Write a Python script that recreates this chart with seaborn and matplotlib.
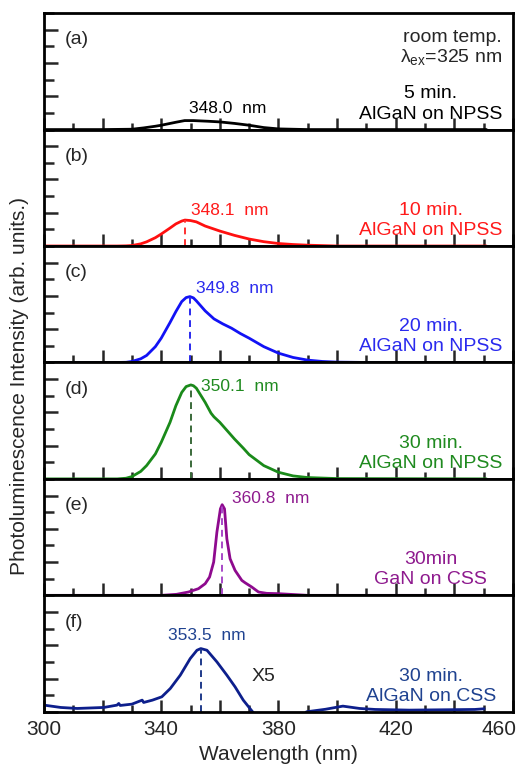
import numpy as np
import matplotlib
matplotlib.use("Agg")
import matplotlib.pyplot as plt
import matplotlib.transforms as mtransforms
import seaborn as sns
from matplotlib.ticker import MultipleLocator, FuncFormatter

# --- PL spectra (intensity in arb. units, 0..7 scale) ---
wl_a = [300, 320, 330, 334, 338, 340, 345, 348, 351, 356, 360, 365, 370, 375, 380, 390, 451]
pl_a = [0, 0, 0.02, 0.1, 0.2, 0.26, 0.44, 0.54, 0.54, 0.5, 0.46, 0.37, 0.26, 0.12, 0.04, 0.0, 0]

wl_b = [300, 325, 328, 330, 333, 335, 338, 340, 343, 345, 347, 348.1, 350, 352, 355, 358, 360,
        365, 370, 375, 380, 385, 390, 400, 451]
pl_b = [0, 0, 0.01, 0.03, 0.13, 0.25, 0.5, 0.72, 1.08, 1.33, 1.5, 1.56, 1.53, 1.45, 1.2, 1.02, 0.9,
        0.64, 0.42, 0.26, 0.15, 0.09, 0.05, 0.0, 0]

wl_c = [300, 325, 328, 330, 333, 335, 338, 340, 343, 345, 347, 348.5, 349.8, 351, 352, 355, 358,
        361, 364, 367, 370, 375, 380, 385, 390, 395, 400, 410, 451]
pl_c = [0, 0, 0.01, 0.06, 0.22, 0.42, 0.95, 1.46, 2.4, 3.06, 3.66, 3.9, 3.96, 3.88, 3.7, 3.1, 2.62,
        2.32, 2.06, 1.74, 1.46, 0.95, 0.56, 0.3, 0.14, 0.06, 0.02, 0, 0]

wl_d = [300, 325, 328, 330, 333, 335, 338, 340, 343, 345, 347, 348.5, 350.1, 351, 352, 355, 357,
        358, 360, 363, 365, 368, 370, 375, 380, 385, 390, 400, 451]
pl_d = [0, 0, 0.04, 0.14, 0.45, 0.8, 1.5, 2.2, 3.4, 4.4, 5.2, 5.55, 5.65, 5.6, 5.45, 4.6, 3.95,
        3.73, 3.4, 2.8, 2.4, 1.85, 1.46, 0.8, 0.4, 0.18, 0.08, 0.02, 0]

wl_e = [300, 340, 345.2, 349.3, 352.7, 355, 356.5, 357.9, 359, 360.2, 360.8, 361.6, 362.4, 363.5,
        365.2, 367.5, 368.6, 370.9, 373.2, 376, 380, 385, 390, 451]
pl_e = [0, 0, 0.06, 0.2, 0.4, 0.7, 1.1, 2.0, 3.8, 5.2, 5.45, 5.2, 3.4, 2.2,
        1.5, 0.9, 0.76, 0.5, 0.2, 0.12, 0.1, 0.05, 0, 0]

wl_f = [300, 305.7, 311.3, 320.4, 324.9, 325.5, 326, 330, 333.5, 334, 337, 340.2, 343.1, 346.5,
        349.9, 352.2, 353.5, 355.6, 359, 362.4, 365.2, 368, 370.9, 372.6, 388, 389.6, 396, 402,
        407.7, 413, 424.7, 447, 450.2]
pl_f = [0.4, 0.26, 0.2, 0.26, 0.4, 0.5, 0.38, 0.46, 0.7, 0.56, 0.7, 0.9, 1.4, 2.2,
        3.2, 3.7, 3.8, 3.7, 3.0, 2.2, 1.5, 0.7, 0.06, -0.3, -0.3, 0.0, 0.15, 0.34,
        0.2, 0.14, 0.1, 0.14, 0.18]

peaks = ["348.0  nm", "348.1  nm", "349.8  nm", "350.1  nm", "360.8  nm", "353.5  nm"]
peak_wl = [348.0, 348.1, 349.8, 350.1, 360.8, 353.5]
panel_ids = ["(a)", "(b)", "(c)", "(d)", "(e)", "(f)"]
samples = ["5 min.\nAlGaN on NPSS", "10 min.\nAlGaN on NPSS", "20 min.\nAlGaN on NPSS",
           "30 min.\nAlGaN on NPSS", "30min\nGaN on CSS", "30 min.\nAlGaN on CSS"]
line_colors = ["black", "#ff1010", "#1212f5", "#1a8a1a", "#8e0a8e", "#0d1f8c"]
text_colors = ["black", "#ff1a1a", "#2a2aee", "#1f8a1f", "#8e1a8e", "#1f4290"]
dash_colors = ["black", "#ff3030", "#2a2aee", "#3a6a3a", "#a848c8", "#1f3a8a"]

# label positions (wavelength, intensity)
label_pos = [(349.5, 1.25), (350.2, 2.15), (352.0, 4.45), (353.7, 5.55), (364.3, 5.85), (342.2, 4.6)]

spectra = [(wl_a, pl_a), (wl_b, pl_b), (wl_c, pl_c), (wl_d, pl_d), (wl_e, pl_e), (wl_f, pl_f)]

sns.set_theme(style="white")
plt.rcParams["font.family"] = ["Liberation Sans", "DejaVu Sans"]
plt.rcParams["mathtext.fontset"] = "custom"
plt.rcParams["mathtext.rm"] = "Liberation Sans"

fig, axes = plt.subplots(6, 1, figsize=(5.18, 7.72), dpi=100, sharex=True)
fig.subplots_adjust(left=0.085, right=0.99, top=0.983, bottom=0.078, hspace=0)

for i, ax in enumerate(axes):
    wl, pl = spectra[i]
    sns.lineplot(x=wl, y=pl, ax=ax, color=line_colors[i], lw=2.0)
    pk = max(pl)
    if i > 0:
        ax.vlines(peak_wl[i], 0, pk, colors=dash_colors[i], linestyles=(0, (3.5, 2.5)), lw=1.4)
    lx, ly = label_pos[i]
    ax.text(lx, ly, peaks[i], color=text_colors[i], fontsize=12.5, va="center", ha="left")
    ax.text(0.045, 0.77, panel_ids[i], transform=ax.transAxes, fontsize=14, va="center", ha="left")
    ax.text(0.825, 0.06, samples[i], transform=ax.transAxes, fontsize=14, va="bottom",
            ha="center", multialignment="center", color=text_colors[i], linespacing=1.25)

    ax.set_xlim(300, 460)
    ax.set_ylim(0, 7)
    ax.yaxis.set_major_locator(MultipleLocator(2))
    ax.yaxis.set_minor_locator(MultipleLocator(1))
    ax.xaxis.set_major_locator(MultipleLocator(20))
    ax.xaxis.set_minor_locator(MultipleLocator(10))
    ax.tick_params(axis="both", which="both", direction="in", width=1.8, top=False, right=False,
                   left=True, bottom=True)
    ax.tick_params(axis="x", which="major", length=9)
    ax.tick_params(axis="x", which="minor", length=5)
    ax.tick_params(axis="y", which="major", length=10)
    ax.tick_params(axis="y", which="minor", length=7)
    ax.set_yticklabels([])
    ax.set_yticklabels([], minor=True)
    ax.set_ylabel("")
    for s in ax.spines.values():
        s.set_linewidth(2.0)
        s.set_color("black")

axes[0].text(0.977, 0.79, "room temp.", transform=axes[0].transAxes, fontsize=14,
             ha="right", va="center")
axes[0].text(0.977, 0.62, r"λ$_\mathregular{ex}$=325 nm", transform=axes[0].transAxes,
             fontsize=14, ha="right", va="center")
axes[5].text(370.8, 2.1, "X5", fontsize=14, ha="left", va="center")

axes[-1].xaxis.set_major_formatter(
    FuncFormatter(lambda v, p: f"{v:.0f}" if round(v - 300) % 40 == 0 else ""))
axes[-1].tick_params(axis="x", labelsize=15, pad=6)
axes[-1].set_xlabel("Wavelength (nm)", fontsize=15, labelpad=4)

# keep the last label (460) inside the figure, as in the reference
fig.canvas.draw()
last = axes[-1].xaxis.get_major_ticks()[-1].label1
for t in axes[-1].xaxis.get_major_ticks():
    if t.get_loc() >= 459:
        t.label1.set_horizontalalignment("right")
        t.label1.set_transform(t.label1.get_transform()
                               + mtransforms.ScaledTranslation(0.04, 0, fig.dpi_scale_trans))

fig.text(0.038, 0.50, "Photoluminescence Intensity (arb. units.)", rotation=90,
         fontsize=15, ha="center", va="center")

fig.savefig("out.png", dpi=100)
